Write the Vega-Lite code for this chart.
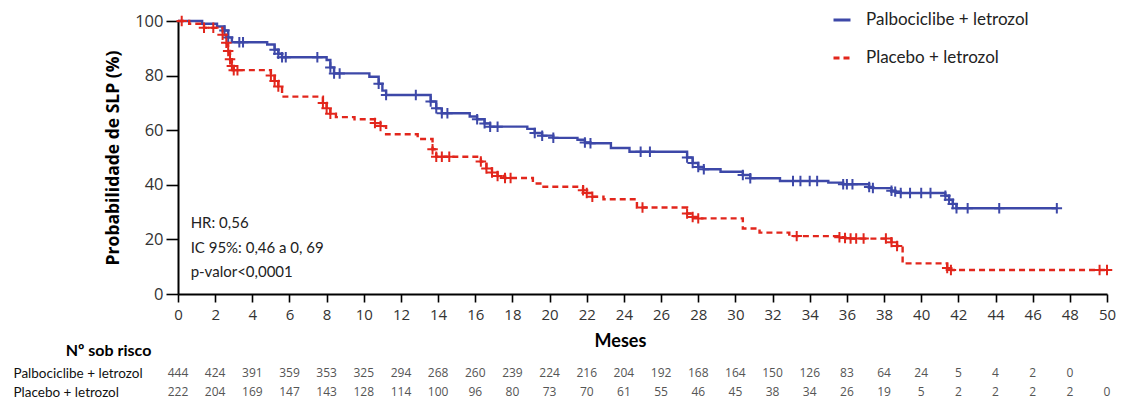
{
  "$schema": "https://vega.github.io/schema/vega-lite/v6.json",
  "background": "white",
  "autosize": {"type": "pad"},
  "padding": {"left": 13, "top": 10, "right": 6, "bottom": 2},
  "bounds": "flush",
  "spacing": 69.5,
  "config": {
    "view": {"stroke": null},
    "axis": {"grid": false}
  },
  "datasets": {
    "curvas": [
      {"g": "Palbociclibe + letrozol", "m": 0, "s": 100, "c": 0},
      {"g": "Palbociclibe + letrozol", "m": 1.3, "s": 99, "c": 0},
      {"g": "Palbociclibe + letrozol", "m": 2.1, "s": 98, "c": 0},
      {"g": "Palbociclibe + letrozol", "m": 2.5, "s": 96.5, "c": 1},
      {"g": "Palbociclibe + letrozol", "m": 2.7, "s": 94, "c": 1},
      {"g": "Palbociclibe + letrozol", "m": 2.9, "s": 92.2, "c": 0},
      {"g": "Palbociclibe + letrozol", "m": 3.3, "s": 92.2, "c": 1},
      {"g": "Palbociclibe + letrozol", "m": 3.5, "s": 92.2, "c": 1},
      {"g": "Palbociclibe + letrozol", "m": 4.8, "s": 91.4, "c": 0},
      {"g": "Palbociclibe + letrozol", "m": 5.2, "s": 89.5, "c": 1},
      {"g": "Palbociclibe + letrozol", "m": 5.4, "s": 88, "c": 1},
      {"g": "Palbociclibe + letrozol", "m": 5.6, "s": 86.7, "c": 1},
      {"g": "Palbociclibe + letrozol", "m": 5.8, "s": 86.7, "c": 1},
      {"g": "Palbociclibe + letrozol", "m": 7.5, "s": 86.7, "c": 1},
      {"g": "Palbociclibe + letrozol", "m": 8.0, "s": 85.7, "c": 0},
      {"g": "Palbociclibe + letrozol", "m": 8.2, "s": 83, "c": 1},
      {"g": "Palbociclibe + letrozol", "m": 8.4, "s": 80.8, "c": 1},
      {"g": "Palbociclibe + letrozol", "m": 8.7, "s": 80.8, "c": 1},
      {"g": "Palbociclibe + letrozol", "m": 10.3, "s": 79.6, "c": 0},
      {"g": "Palbociclibe + letrozol", "m": 10.8, "s": 77, "c": 1},
      {"g": "Palbociclibe + letrozol", "m": 11.0, "s": 74.5, "c": 0},
      {"g": "Palbociclibe + letrozol", "m": 11.2, "s": 72.9, "c": 1},
      {"g": "Palbociclibe + letrozol", "m": 12.8, "s": 72.9, "c": 1},
      {"g": "Palbociclibe + letrozol", "m": 13.6, "s": 70.5, "c": 1},
      {"g": "Palbociclibe + letrozol", "m": 13.9, "s": 68, "c": 1},
      {"g": "Palbociclibe + letrozol", "m": 14.2, "s": 66.2, "c": 1},
      {"g": "Palbociclibe + letrozol", "m": 14.5, "s": 66.2, "c": 1},
      {"g": "Palbociclibe + letrozol", "m": 15.7, "s": 65, "c": 0},
      {"g": "Palbociclibe + letrozol", "m": 16.1, "s": 64, "c": 1},
      {"g": "Palbociclibe + letrozol", "m": 16.5, "s": 62.5, "c": 1},
      {"g": "Palbociclibe + letrozol", "m": 16.8, "s": 61.3, "c": 1},
      {"g": "Palbociclibe + letrozol", "m": 17.2, "s": 61.3, "c": 1},
      {"g": "Palbociclibe + letrozol", "m": 18.8, "s": 60.5, "c": 0},
      {"g": "Palbociclibe + letrozol", "m": 19.2, "s": 59, "c": 1},
      {"g": "Palbociclibe + letrozol", "m": 19.6, "s": 58, "c": 1},
      {"g": "Palbociclibe + letrozol", "m": 20.2, "s": 57.2, "c": 1},
      {"g": "Palbociclibe + letrozol", "m": 21.5, "s": 56.5, "c": 0},
      {"g": "Palbociclibe + letrozol", "m": 21.9, "s": 55.5, "c": 1},
      {"g": "Palbociclibe + letrozol", "m": 22.2, "s": 55.2, "c": 1},
      {"g": "Palbociclibe + letrozol", "m": 23.3, "s": 53.5, "c": 0},
      {"g": "Palbociclibe + letrozol", "m": 24.3, "s": 52.1, "c": 0},
      {"g": "Palbociclibe + letrozol", "m": 24.9, "s": 52.1, "c": 1},
      {"g": "Palbociclibe + letrozol", "m": 25.4, "s": 52.1, "c": 1},
      {"g": "Palbociclibe + letrozol", "m": 27.4, "s": 50, "c": 1},
      {"g": "Palbociclibe + letrozol", "m": 27.7, "s": 48, "c": 1},
      {"g": "Palbociclibe + letrozol", "m": 28.0, "s": 46.5, "c": 1},
      {"g": "Palbociclibe + letrozol", "m": 28.3, "s": 45.7, "c": 1},
      {"g": "Palbociclibe + letrozol", "m": 29.2, "s": 44.8, "c": 0},
      {"g": "Palbociclibe + letrozol", "m": 30.4, "s": 43.6, "c": 1},
      {"g": "Palbociclibe + letrozol", "m": 30.8, "s": 42.4, "c": 1},
      {"g": "Palbociclibe + letrozol", "m": 32.4, "s": 41.4, "c": 0},
      {"g": "Palbociclibe + letrozol", "m": 33.1, "s": 41.4, "c": 1},
      {"g": "Palbociclibe + letrozol", "m": 33.5, "s": 41.4, "c": 1},
      {"g": "Palbociclibe + letrozol", "m": 34.0, "s": 41.4, "c": 1},
      {"g": "Palbociclibe + letrozol", "m": 34.4, "s": 41.4, "c": 1},
      {"g": "Palbociclibe + letrozol", "m": 35.0, "s": 40.8, "c": 0},
      {"g": "Palbociclibe + letrozol", "m": 35.8, "s": 40.2, "c": 1},
      {"g": "Palbociclibe + letrozol", "m": 36.0, "s": 40.2, "c": 1},
      {"g": "Palbociclibe + letrozol", "m": 36.3, "s": 40.2, "c": 1},
      {"g": "Palbociclibe + letrozol", "m": 37.2, "s": 39.2, "c": 1},
      {"g": "Palbociclibe + letrozol", "m": 37.4, "s": 38.8, "c": 1},
      {"g": "Palbociclibe + letrozol", "m": 38.4, "s": 37.8, "c": 1},
      {"g": "Palbociclibe + letrozol", "m": 38.6, "s": 37.5, "c": 1},
      {"g": "Palbociclibe + letrozol", "m": 38.9, "s": 37.0, "c": 1},
      {"g": "Palbociclibe + letrozol", "m": 39.4, "s": 37.0, "c": 1},
      {"g": "Palbociclibe + letrozol", "m": 40.0, "s": 37.0, "c": 1},
      {"g": "Palbociclibe + letrozol", "m": 40.5, "s": 37.0, "c": 1},
      {"g": "Palbociclibe + letrozol", "m": 41.3, "s": 36.0, "c": 1},
      {"g": "Palbociclibe + letrozol", "m": 41.5, "s": 34.5, "c": 1},
      {"g": "Palbociclibe + letrozol", "m": 41.7, "s": 33.0, "c": 1},
      {"g": "Palbociclibe + letrozol", "m": 41.9, "s": 31.4, "c": 1},
      {"g": "Palbociclibe + letrozol", "m": 42.5, "s": 31.4, "c": 1},
      {"g": "Palbociclibe + letrozol", "m": 44.2, "s": 31.4, "c": 1},
      {"g": "Palbociclibe + letrozol", "m": 47.3, "s": 31.4, "c": 1},
      {"g": "Placebo + letrozol", "m": 0, "s": 100, "c": 0},
      {"g": "Placebo + letrozol", "m": 0.2, "s": 100, "c": 1},
      {"g": "Placebo + letrozol", "m": 0.6, "s": 99, "c": 0},
      {"g": "Placebo + letrozol", "m": 1.4, "s": 97.5, "c": 1},
      {"g": "Placebo + letrozol", "m": 1.9, "s": 97.5, "c": 1},
      {"g": "Placebo + letrozol", "m": 2.4, "s": 95, "c": 1},
      {"g": "Placebo + letrozol", "m": 2.6, "s": 92, "c": 1},
      {"g": "Placebo + letrozol", "m": 2.7, "s": 89, "c": 1},
      {"g": "Placebo + letrozol", "m": 2.8, "s": 86, "c": 1},
      {"g": "Placebo + letrozol", "m": 2.9, "s": 83.5, "c": 1},
      {"g": "Placebo + letrozol", "m": 3.0, "s": 82, "c": 1},
      {"g": "Placebo + letrozol", "m": 3.2, "s": 82, "c": 1},
      {"g": "Placebo + letrozol", "m": 5.0, "s": 80, "c": 1},
      {"g": "Placebo + letrozol", "m": 5.2, "s": 78, "c": 1},
      {"g": "Placebo + letrozol", "m": 5.4, "s": 76, "c": 1},
      {"g": "Placebo + letrozol", "m": 5.6, "s": 72.3, "c": 0},
      {"g": "Placebo + letrozol", "m": 7.8, "s": 70, "c": 1},
      {"g": "Placebo + letrozol", "m": 8.0, "s": 68, "c": 1},
      {"g": "Placebo + letrozol", "m": 8.2, "s": 66, "c": 1},
      {"g": "Placebo + letrozol", "m": 8.5, "s": 64.8, "c": 0},
      {"g": "Placebo + letrozol", "m": 9.5, "s": 64, "c": 0},
      {"g": "Placebo + letrozol", "m": 10.6, "s": 62.6, "c": 1},
      {"g": "Placebo + letrozol", "m": 10.9, "s": 61.5, "c": 1},
      {"g": "Placebo + letrozol", "m": 11.2, "s": 58.5, "c": 0},
      {"g": "Placebo + letrozol", "m": 12.9, "s": 56.8, "c": 0},
      {"g": "Placebo + letrozol", "m": 13.7, "s": 53, "c": 1},
      {"g": "Placebo + letrozol", "m": 13.9, "s": 50.3, "c": 1},
      {"g": "Placebo + letrozol", "m": 14.2, "s": 50.3, "c": 1},
      {"g": "Placebo + letrozol", "m": 14.6, "s": 50.3, "c": 1},
      {"g": "Placebo + letrozol", "m": 16.3, "s": 48.5, "c": 1},
      {"g": "Placebo + letrozol", "m": 16.6, "s": 46, "c": 1},
      {"g": "Placebo + letrozol", "m": 16.9, "s": 44.5, "c": 1},
      {"g": "Placebo + letrozol", "m": 17.2, "s": 43.2, "c": 1},
      {"g": "Placebo + letrozol", "m": 17.6, "s": 42.5, "c": 1},
      {"g": "Placebo + letrozol", "m": 17.9, "s": 42.5, "c": 1},
      {"g": "Placebo + letrozol", "m": 19.1, "s": 40.5, "c": 0},
      {"g": "Placebo + letrozol", "m": 19.6, "s": 39.3, "c": 0},
      {"g": "Placebo + letrozol", "m": 21.8, "s": 38, "c": 1},
      {"g": "Placebo + letrozol", "m": 22.0, "s": 37, "c": 1},
      {"g": "Placebo + letrozol", "m": 22.3, "s": 35.6, "c": 1},
      {"g": "Placebo + letrozol", "m": 22.9, "s": 34.7, "c": 0},
      {"g": "Placebo + letrozol", "m": 24.7, "s": 31.7, "c": 0},
      {"g": "Placebo + letrozol", "m": 25.0, "s": 31.7, "c": 1},
      {"g": "Placebo + letrozol", "m": 27.4, "s": 29.5, "c": 1},
      {"g": "Placebo + letrozol", "m": 27.7, "s": 28.2, "c": 1},
      {"g": "Placebo + letrozol", "m": 28.0, "s": 27.7, "c": 1},
      {"g": "Placebo + letrozol", "m": 30.4, "s": 24, "c": 0},
      {"g": "Placebo + letrozol", "m": 31.3, "s": 22.5, "c": 0},
      {"g": "Placebo + letrozol", "m": 32.9, "s": 21.2, "c": 0},
      {"g": "Placebo + letrozol", "m": 33.3, "s": 21.2, "c": 1},
      {"g": "Placebo + letrozol", "m": 35.6, "s": 20.8, "c": 1},
      {"g": "Placebo + letrozol", "m": 35.9, "s": 20.5, "c": 1},
      {"g": "Placebo + letrozol", "m": 36.2, "s": 20.3, "c": 1},
      {"g": "Placebo + letrozol", "m": 36.5, "s": 20.3, "c": 1},
      {"g": "Placebo + letrozol", "m": 36.9, "s": 20.3, "c": 1},
      {"g": "Placebo + letrozol", "m": 38.1, "s": 20.3, "c": 1},
      {"g": "Placebo + letrozol", "m": 38.4, "s": 19, "c": 1},
      {"g": "Placebo + letrozol", "m": 38.7, "s": 17.6, "c": 1},
      {"g": "Placebo + letrozol", "m": 39.0, "s": 11.2, "c": 0},
      {"g": "Placebo + letrozol", "m": 41.4, "s": 9.5, "c": 1},
      {"g": "Placebo + letrozol", "m": 41.6, "s": 8.8, "c": 1},
      {"g": "Placebo + letrozol", "m": 49.6, "s": 8.8, "c": 1},
      {"g": "Placebo + letrozol", "m": 50.0, "s": 8.8, "c": 1}
    ],
    "notas": [
      {"t": "HR: 0,56", "m": 0.68, "s": 25.9},
      {"t": "IC 95%: 0,46 a 0, 69", "m": 0.68, "s": 16.9},
      {"t": "p-valor<0,0001", "m": 0.68, "s": 8.2}
    ],
    "risco": [
      {"g": "Palbociclibe + letrozol", "m": 0, "n": 444},
      {"g": "Palbociclibe + letrozol", "m": 2, "n": 424},
      {"g": "Palbociclibe + letrozol", "m": 4, "n": 391},
      {"g": "Palbociclibe + letrozol", "m": 6, "n": 359},
      {"g": "Palbociclibe + letrozol", "m": 8, "n": 353},
      {"g": "Palbociclibe + letrozol", "m": 10, "n": 325},
      {"g": "Palbociclibe + letrozol", "m": 12, "n": 294},
      {"g": "Palbociclibe + letrozol", "m": 14, "n": 268},
      {"g": "Palbociclibe + letrozol", "m": 16, "n": 260},
      {"g": "Palbociclibe + letrozol", "m": 18, "n": 239},
      {"g": "Palbociclibe + letrozol", "m": 20, "n": 224},
      {"g": "Palbociclibe + letrozol", "m": 22, "n": 216},
      {"g": "Palbociclibe + letrozol", "m": 24, "n": 204},
      {"g": "Palbociclibe + letrozol", "m": 26, "n": 192},
      {"g": "Palbociclibe + letrozol", "m": 28, "n": 168},
      {"g": "Palbociclibe + letrozol", "m": 30, "n": 164},
      {"g": "Palbociclibe + letrozol", "m": 32, "n": 150},
      {"g": "Palbociclibe + letrozol", "m": 34, "n": 126},
      {"g": "Palbociclibe + letrozol", "m": 36, "n": 83},
      {"g": "Palbociclibe + letrozol", "m": 38, "n": 64},
      {"g": "Palbociclibe + letrozol", "m": 40, "n": 24},
      {"g": "Palbociclibe + letrozol", "m": 42, "n": 5},
      {"g": "Palbociclibe + letrozol", "m": 44, "n": 4},
      {"g": "Palbociclibe + letrozol", "m": 46, "n": 2},
      {"g": "Palbociclibe + letrozol", "m": 48, "n": 0},
      {"g": "Placebo + letrozol", "m": 0, "n": 222},
      {"g": "Placebo + letrozol", "m": 2, "n": 204},
      {"g": "Placebo + letrozol", "m": 4, "n": 169},
      {"g": "Placebo + letrozol", "m": 6, "n": 147},
      {"g": "Placebo + letrozol", "m": 8, "n": 143},
      {"g": "Placebo + letrozol", "m": 10, "n": 128},
      {"g": "Placebo + letrozol", "m": 12, "n": 114},
      {"g": "Placebo + letrozol", "m": 14, "n": 100},
      {"g": "Placebo + letrozol", "m": 16, "n": 96},
      {"g": "Placebo + letrozol", "m": 18, "n": 80},
      {"g": "Placebo + letrozol", "m": 20, "n": 73},
      {"g": "Placebo + letrozol", "m": 22, "n": 70},
      {"g": "Placebo + letrozol", "m": 24, "n": 61},
      {"g": "Placebo + letrozol", "m": 26, "n": 55},
      {"g": "Placebo + letrozol", "m": 28, "n": 46},
      {"g": "Placebo + letrozol", "m": 30, "n": 45},
      {"g": "Placebo + letrozol", "m": 32, "n": 38},
      {"g": "Placebo + letrozol", "m": 34, "n": 34},
      {"g": "Placebo + letrozol", "m": 36, "n": 26},
      {"g": "Placebo + letrozol", "m": 38, "n": 19},
      {"g": "Placebo + letrozol", "m": 40, "n": 5},
      {"g": "Placebo + letrozol", "m": 42, "n": 2},
      {"g": "Placebo + letrozol", "m": 44, "n": 2},
      {"g": "Placebo + letrozol", "m": 46, "n": 2},
      {"g": "Placebo + letrozol", "m": 48, "n": 2},
      {"g": "Placebo + letrozol", "m": 50, "n": 0}
    ]
  },
  "vconcat": [
    {
      "width": 929,
      "height": 273,
      "encoding": {
        "x": {
          "field": "m", "type": "quantitative",
          "scale": {"domain": [0, 50], "nice": false, "zero": false},
          "axis": {
            "title": "Meses",
            "values": [0, 2, 4, 6, 8, 10, 12, 14, 16, 18, 20, 22, 24, 26, 28, 30, 32, 34, 36, 38, 40, 42, 44, 46, 48, 50],
            "labelOverlap": false,
            "domainColor": "#000", "domainWidth": 2,
            "tickColor": "#000", "tickWidth": 1.6, "tickSize": 8,
            "labelFont": "Open Sans", "labelFontSize": 15, "labelColor": "#333", "labelPadding": 5,
            "labelFlush": false,
            "titleFont": "Lato", "titleFontSize": 18, "titleFontWeight": "bold", "titleColor": "#000",
            "titlePadding": 10, "titleX": 442
          }
        },
        "y": {
          "field": "s", "type": "quantitative",
          "scale": {"domain": [0, 100], "nice": false},
          "axis": {
            "title": "Probabilidade de SLP (%)",
            "values": [0, 20, 40, 60, 80, 100],
            "domainColor": "#000", "domainWidth": 2,
            "tickColor": "#000", "tickWidth": 1.6, "tickSize": 12,
            "labelFont": "Open Sans", "labelFontSize": 16.5, "labelColor": "#333", "labelPadding": 3,
            "labelFlush": false,
            "titleFont": "Open Sans", "titleFontSize": 17.5, "titleFontWeight": "bold", "titleColor": "#000",
            "titlePadding": 12
          }
        }
      },
      "layer": [
        {
          "data": {"name": "curvas"},
          "mark": {"type": "line", "interpolate": "step-after", "strokeWidth": 2.4},
          "encoding": {
            "color": {
              "field": "g", "type": "nominal",
              "scale": {"domain": ["Palbociclibe + letrozol", "Placebo + letrozol"], "range": ["#3d48a8", "#e2261c"]},
              "legend": {
                "title": null, "orient": "none", "legendX": 654, "legendY": -11,
                "symbolType": "stroke", "symbolSize": 289, "symbolStrokeWidth": 3,
                "labelFont": "Lato", "labelFontSize": 17, "labelColor": "#222", "labelOffset": 14,
                "labelLimit": 400, "rowPadding": 20
              }
            },
            "strokeDash": {
              "field": "g", "type": "nominal",
              "scale": {"domain": ["Palbociclibe + letrozol", "Placebo + letrozol"], "range": [[1, 0], [6, 4]]}
            }
          }
        },
        {
          "data": {"name": "curvas"},
          "transform": [{"filter": "datum.c == 1"}],
          "mark": {"type": "point", "shape": "M-1,0L1,0M0,-1L0,1", "filled": false, "size": 110, "strokeWidth": 2, "opacity": 1},
          "encoding": {
            "stroke": {
              "field": "g", "type": "nominal",
              "scale": {"domain": ["Palbociclibe + letrozol", "Placebo + letrozol"], "range": ["#3d48a8", "#e2261c"]},
              "legend": null
            }
          }
        },
        {
          "data": {"name": "notas"},
          "mark": {"type": "text", "align": "left", "baseline": "middle", "font": "Lato", "fontSize": 15, "color": "#222"},
          "encoding": {
            "text": {"field": "t"}
          }
        }
      ]
    },
    {
      "width": 929,
      "height": 38,
      "data": {"name": "risco"},
      "mark": {"type": "text", "font": "Open Sans", "fontSize": 12, "color": "#555", "baseline": "middle"},
      "encoding": {
        "x": {"field": "m", "type": "quantitative", "scale": {"domain": [0, 50], "nice": false}, "axis": null},
        "y": {
          "field": "g", "type": "nominal",
          "sort": ["Palbociclibe + letrozol", "Placebo + letrozol"],
          "scale": {"paddingInner": 0, "paddingOuter": 0},
          "axis": {
            "title": "Nº sob risco",
            "titleAngle": 0, "titleAlign": "center", "titleBaseline": "middle",
            "titleX": -70, "titleY": -13,
            "titleFont": "Lato", "titleFontSize": 16, "titleFontWeight": "bold", "titleColor": "#000",
            "domain": false, "ticks": false, "tickSize": 0,
            "labelAlign": "left", "labelPadding": 165,
            "labelFont": "Lato", "labelFontSize": 13.5, "labelColor": "#111"
          }
        },
        "text": {"field": "n", "type": "quantitative"}
      }
    }
  ]
}
